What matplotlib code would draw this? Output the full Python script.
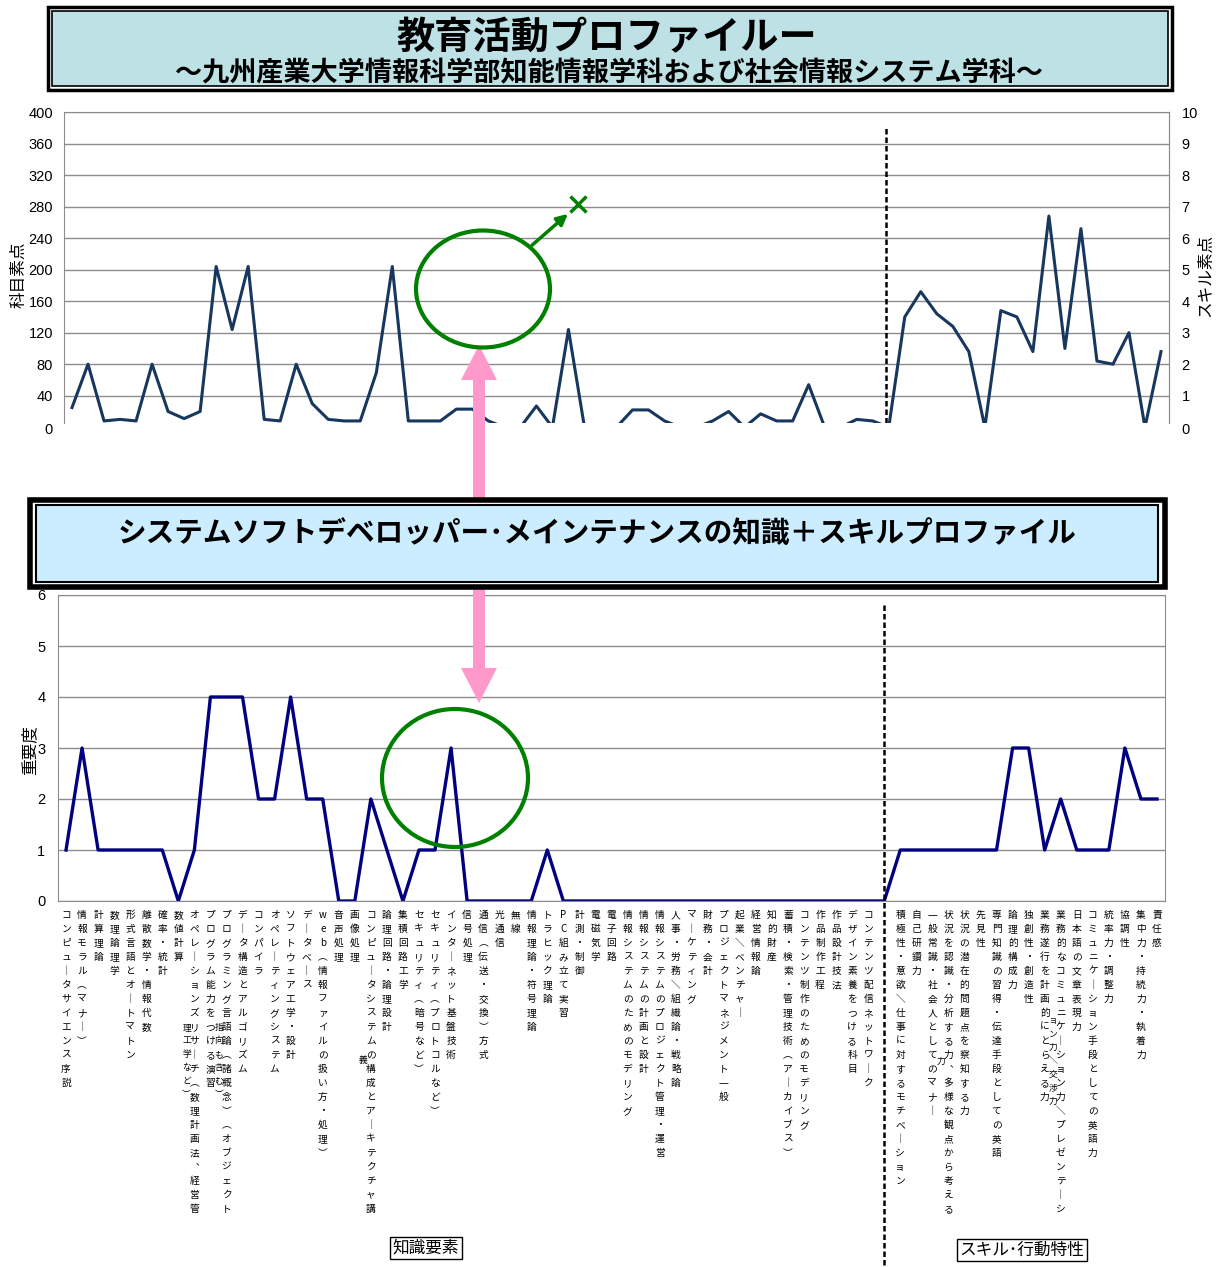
import numpy as np
import matplotlib
matplotlib.use('agg')
import matplotlib.pyplot as plt
from matplotlib.patches import Rectangle, Ellipse, FancyArrow
from matplotlib.transforms import blended_transform_factory

plt.rcParams['font.family'] = ['Noto Sans CJK JP', 'DejaVu Sans']

# knowledge items (left of the dashed line)
knowledge_labels = [
    "コンピュータサイエンス序説", "情報モラル（マナー）", "計算理論", "数理論理学",
    "形式言語とオートマトン", "離散数学・情報代数", "確率・統計", "数値計算",
    "オペレーションズリサーチ（数理計画法、経営管理工学など）",
    "プログラム能力をつける演習",
    "プログラミング言語論（諸概念）（オブジェクト指向も含む）",
    "データ構造とアルゴリズム", "コンパイラ", "オペレーティングシステム",
    "ソフトウェア工学・設計", "データベース", "web（情報ファイルの扱い方・処理）",
    "音声処理", "画像処理", "コンピュータシステムの構成とアーキテクチャ講義",
    "論理回路・論理設計", "集積回路工学", "セキュリティ（暗号など）",
    "セキュリティ（プロトコルなど）", "インターネット基盤技術", "信号処理",
    "通信（伝送・交換）方式", "光通信", "無線", "情報理論・符号理論",
    "トラヒック理論", "PC組み立て実習", "計測・制御", "電磁気学", "電子回路",
    "情報システムのためのモデリング", "情報システムの計画と設計",
    "情報システムのプロジェクト管理・運営", "人事・労務／組織論・戦略論",
    "マーケティング", "財務・会計", "プロジェクトマネジメント一般",
    "起業／ベンチャー", "経営情報論", "知的財産",
    "蓄積・検索・管理技術（アーカイブス）", "コンテンツ制作のためのモデリング",
    "作品制作工程", "作品設計技法", "デザイン素養をつける科目",
    "コンテンツ配信ネットワーク",
]
# skill / behaviour items (right of the dashed line)
skill_labels = [
    "積極性・意欲／仕事に対するモチベーション", "自己研鑽力",
    "一般常識・社会人としてのマナー",
    "状況を認識・分析する力、多様な観点から考える力",
    "状況の潜在的問題点を察知する力", "先見性",
    "専門知識の習得・伝達手段としての英語", "論理的構成力", "独創性・創造性",
    "業務遂行を計画的にとらえる力",
    "業務的なコミュニケーション力／プレゼンテーション力／交渉力",
    "日本語の文章表現力", "コミュニケーション手段としての英語力",
    "統率力・調整力", "協調性", "集中力・持続力・執着力", "責任感",
]

# 科目素点 (left axis)
subject_scores = [25, 80, 8, 10, 8, 80, 20, 11, 20, 204, 124, 204, 10, 8, 80, 30,
                  10, 8, 8, 69, 204, 8, 8, 8, 23, 23, 8, 0, 0, 27, 0, 124, 0, 0, 0,
                  22, 22, 8, 0, 0, 8, 20, 0, 17, 8, 8, 54, 0, 0, 10, 8]
# スキル素点 (right axis)
skill_scores = [3.5, 4.3, 3.6, 3.2, 2.4, 0, 3.7, 3.5, 2.4, 6.7, 2.5, 6.3, 2.1,
                2.0, 3.0, 0, 2.4]
# 重要度
importance_knowledge = [1, 3, 1, 1, 1, 1, 1, 0, 1, 4, 4, 4, 2, 2, 4, 2, 2, 0, 0, 2,
                        1, 0, 1, 1, 3, 0, 0, 0, 0, 0, 1, 0, 0, 0, 0, 0, 0, 0, 0, 0,
                        0, 0, 0, 0, 0, 0, 0, 0, 0, 0, 0]
importance_skill = [1, 1, 1, 1, 1, 1, 1, 3, 3, 1, 2, 1, 1, 1, 3, 2, 2]

W, H = 1220, 1267
fig = plt.figure(figsize=(W / 100, H / 100), dpi=100)


def box(l, t, r, b):
    return [l / W, 1 - b / H, (r - l) / W, (b - t) / H]


n_k = len(knowledge_labels)
gap = n_k + 1                      # empty column holding the separator
x_k = np.arange(1, n_k + 1)
x_s = np.arange(gap + 1, gap + 1 + len(skill_labels))
n_all = gap + len(skill_labels)

num_font = ['Liberation Sans Narrow', 'Liberation Sans', 'DejaVu Sans']
grid_c = '#8c8c8c'

# ---- top chart
ax1 = fig.add_axes(box(64, 112, 1169, 423))
ax1.plot(np.append(x_k, gap), subject_scores + [0], color='#17375E', lw=2.2)
ax1.set_xlim(0.5, n_all + 0.5)
ax1.set_ylim(5.4, 400)
ax1.set_yticks(range(40, 401, 40))
ax1.set_xticks([])
ax1.grid(axis='y', color=grid_c, lw=1)
ax1.tick_params(axis='y', length=0, pad=8, labelsize=10.5)
for t in ax1.get_yticklabels():
    t.set_family(num_font)
for s in ['left', 'right', 'top']:
    ax1.spines[s].set_color(grid_c)
ax1.spines['bottom'].set_visible(False)
ax1.annotate('0', xy=(0, 0), xycoords=('axes fraction', 'data'), xytext=(-8, -2),
             textcoords='offset points', ha='right', va='center', fontsize=10.5,
             family=num_font, annotation_clip=False)
ax1.axvline(gap - 0.2, ymin=0, ymax=0.95, color='black', ls='--', lw=1.8,
            dashes=(2.2, 1.2))
ax1.set_ylabel('科目素点', fontsize=12)
ax1.yaxis.set_label_coords(-0.0335, 0.476)

ax1b = ax1.twinx()
ax1b.plot(np.append(gap, x_s), [0] + skill_scores, color='#17375E', lw=2.2)
ax1b.set_ylim(5.4 / 40, 10)
ax1b.set_yticks(range(1, 11))
ax1b.tick_params(axis='y', length=0, pad=9, labelsize=10.5)
for t in ax1b.get_yticklabels():
    t.set_family(num_font)
for s in ['left', 'top', 'bottom']:
    ax1b.spines[s].set_visible(False)
ax1b.spines['right'].set_color(grid_c)
ax1b.annotate('0', xy=(1, 0), xycoords=('axes fraction', 'data'), xytext=(9, -2),
              textcoords='offset points', ha='left', va='center', fontsize=10.5,
              family=num_font, annotation_clip=False)
ax1b.set_ylabel('スキル素点', fontsize=12)
ax1b.yaxis.set_label_coords(1.026, 0.476)

# ---- bottom chart
ax2 = fig.add_axes(box(58, 595, 1165, 901))
ax2.plot(np.arange(1, n_all + 1), importance_knowledge + [0] + importance_skill,
         color='#000080', lw=2.4)
ax2.set_xlim(0.5, n_all + 0.5)
ax2.set_ylim(0, 6)
ax2.set_yticks(range(0, 7))
ax2.set_xticks([])
ax2.grid(axis='y', color=grid_c, lw=1)
ax2.tick_params(axis='y', length=0, pad=9, labelsize=10.5)
for t in ax2.get_yticklabels():
    t.set_family(num_font)
for s in ax2.spines.values():
    s.set_color(grid_c)
ax2.axvline(gap, ymin=-(1265 - 901) / 306, ymax=(901 - 603) / 306, color='black',
            ls='--', lw=1.8, dashes=(2.2, 1.2), clip_on=False)
ax2.set_ylabel('重要度', fontsize=12)
ax2.yaxis.set_label_coords(-0.018, 0.493)

# ---- overlay in pixel coordinates
ov = fig.add_axes([0, 0, 1, 1])
ov.set_xlim(0, W)
ov.set_ylim(H, 0)
ov.axis('off')

# title block
ov.add_patch(Rectangle((48, 7), 1124, 83, fc='white', ec='black', lw=2.5))
ov.add_patch(Rectangle((52, 11), 1116, 75, fc='#BDE1E4', ec='black', lw=1.2))
ov.text(607, 38, '教育活動プロファイルー', ha='center', va='center',
        fontsize=27.5, fontweight='bold')
ov.text(609, 73, '～九州産業大学情報科学部知能情報学科および社会情報システム学科～',
        ha='center', va='center', fontsize=19.5, fontweight='bold')

# pink double arrow (behind the middle box)
ov.add_patch(FancyArrow(479, 525, 0, -180, width=12, head_width=36, head_length=35,
                        length_includes_head=True, color='#FF99CC', lw=0))
ov.add_patch(FancyArrow(479, 525, 0, 178, width=12, head_width=36, head_length=35,
                        length_includes_head=True, color='#FF99CC', lw=0))

ov.add_patch(Rectangle((30, 500), 1135, 87, fc='white', ec='black', lw=4))
ov.add_patch(Rectangle((36, 505), 1122, 77, fc='#CCECFF', ec='black', lw=1.5))
ov.text(597, 533, 'システムソフトデベロッパー･メインテナンスの知識＋スキルプロファイル',
        ha='center', va='center', fontsize=20.6, fontweight='bold')

# green marks
green = '#008000'
ov.add_patch(Ellipse((483, 289), 134, 117, fill=False, ec=green, lw=3))
ov.add_patch(Ellipse((455, 778), 146, 138, fill=False, ec=green, lw=3))
ov.annotate('', xy=(570, 212), xytext=(530, 247),
            arrowprops=dict(arrowstyle='-|>', color=green, lw=2.5, mutation_scale=16))
ov.plot([578], [204], marker='x', ms=11, mew=2.5, color=green)

# vertical category labels
vmap = {'ー': '｜', '（': '︵', '）': '︶', '、': '︑', '／': '＼', '－': '｜'}


def vert(s):
    return [vmap.get(c, c) for c in s]


lab_tr = blended_transform_factory(ax2.transData, ov.transData)
all_x = list(x_k) + list(x_s)
all_labels = knowledge_labels + skill_labels
for xi, lab in zip(all_x, all_labels):
    chars = vert(lab)
    ov.text(xi, 910, '\n'.join(chars[:22]), transform=lab_tr, ha='center',
            va='top', fontsize=7, linespacing=1.5)
    if len(chars) > 22:
        ov.text(xi - 0.48, 1061, '\n'.join(chars[22:]), transform=lab_tr,
                ha='center', va='center', fontsize=6.3, linespacing=1.62)

bb = dict(boxstyle='square,pad=0.15', fc='white', ec='black', lw=1)
ov.text(426, 1248, '知識要素', ha='center', va='center', fontsize=12, bbox=bb)
ov.text(1022, 1250, 'スキル･行動特性', ha='center', va='center', fontsize=12, bbox=bb)

fig.savefig('out.png', dpi=100)
